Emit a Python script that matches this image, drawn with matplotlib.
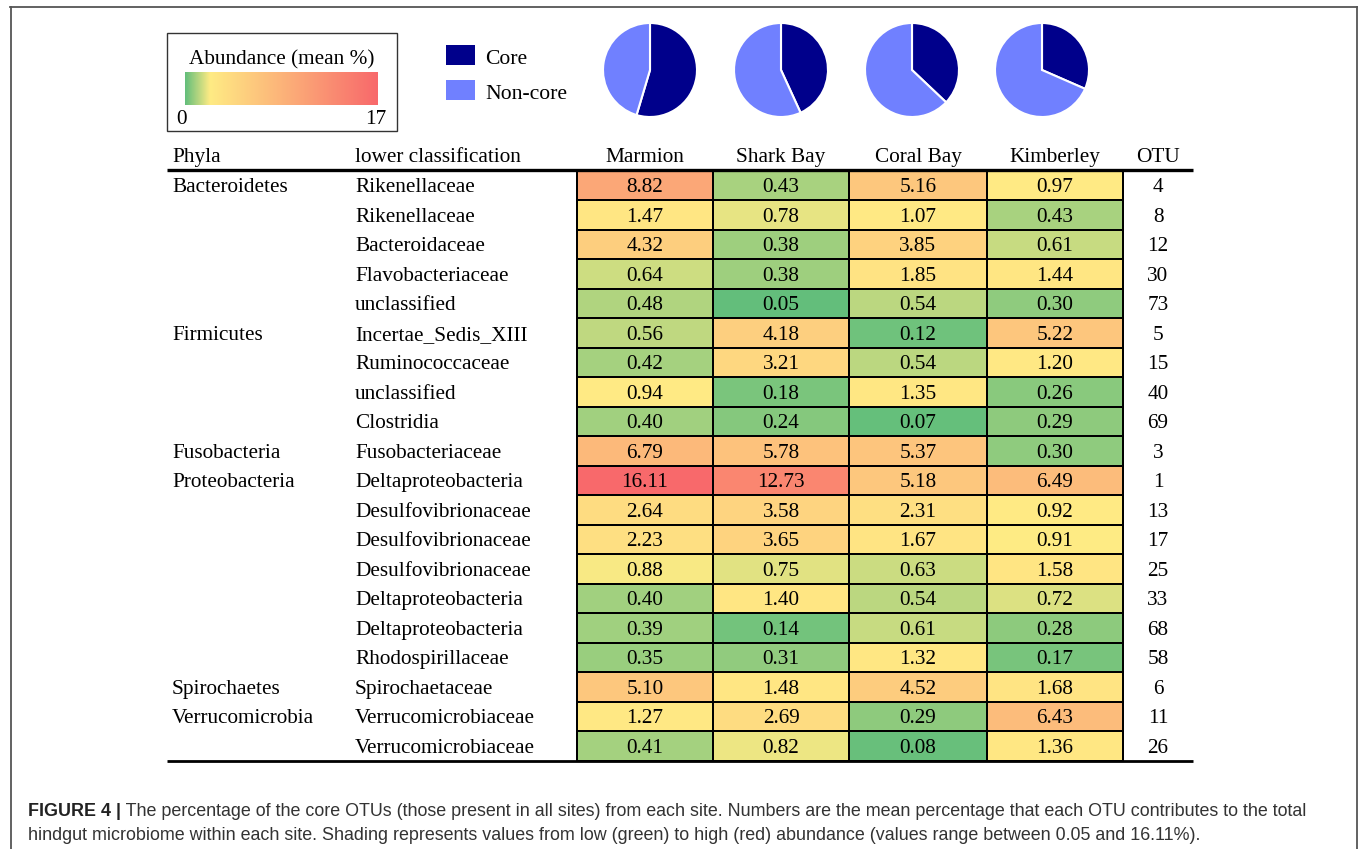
import numpy as np
import matplotlib
matplotlib.use("Agg")
import matplotlib.pyplot as plt
from matplotlib.colors import LinearSegmentedColormap, TwoSlopeNorm
from matplotlib.patches import Rectangle

# ---------------- data ----------------
sites = ["Marmion", "Shark Bay", "Coral Bay", "Kimberley"]
phyla = ["Bacteroidetes", "", "", "", "", "Firmicutes", "", "", "", "Fusobacteria",
         "Proteobacteria", "", "", "", "", "", "", "Spirochaetes", "Verrucomicrobia", ""]
lower = ["Rikenellaceae", "Rikenellaceae", "Bacteroidaceae", "Flavobacteriaceae", "unclassified",
         "Incertae_Sedis_XIII", "Ruminococcaceae", "unclassified", "Clostridia",
         "Fusobacteriaceae", "Deltaproteobacteria", "Desulfovibrionaceae", "Desulfovibrionaceae",
         "Desulfovibrionaceae", "Deltaproteobacteria", "Deltaproteobacteria", "Rhodospirillaceae",
         "Spirochaetaceae", "Verrucomicrobiaceae", "Verrucomicrobiaceae"]
otu = [4, 8, 12, 30, 73, 5, 15, 40, 69, 3, 1, 13, 17, 25, 33, 68, 58, 6, 11, 26]
marmion = [8.82, 1.47, 4.32, 0.64, 0.48, 0.56, 0.42, 0.94, 0.40, 6.79, 16.11, 2.64, 2.23,
           0.88, 0.40, 0.39, 0.35, 5.10, 1.27, 0.41]
shark_bay = [0.43, 0.78, 0.38, 0.38, 0.05, 4.18, 3.21, 0.18, 0.24, 5.78, 12.73, 3.58, 3.65,
             0.75, 1.40, 0.14, 0.31, 1.48, 2.69, 0.82]
coral_bay = [5.16, 1.07, 3.85, 1.85, 0.54, 0.12, 0.54, 1.35, 0.07, 5.37, 5.18, 2.31, 1.67,
             0.63, 0.54, 0.61, 1.32, 4.52, 0.29, 0.08]
kimberley = [0.97, 0.43, 0.61, 1.44, 0.30, 5.22, 1.20, 0.26, 0.29, 0.30, 6.49, 0.92, 0.91,
             1.58, 0.72, 0.28, 0.17, 1.68, 6.43, 1.36]
core_pct = [54.62, 43.16, 37.07, 31.56]
legend_min, legend_max = 0, 17

caption_bold = "FIGURE 4 |"
caption_1 = (" The percentage of the core OTUs (those present in all sites) from each site. "
             "Numbers are the mean percentage that each OTU contributes to the total")
caption_2 = ("hindgut microbiome within each site. Shading represents values from low (green) to "
             "high (red) abundance (values range between 0.05 and 16.11%).")

# ---------------- figure ----------------
W, H = 1359, 849
fig = plt.figure(figsize=(W / 100, H / 100), dpi=100)
ax = fig.add_axes([0, 0, 1, 1])
ax.set_xlim(0, W)
ax.set_ylim(H, 0)
ax.axis("off")


def px_axes(x0, y0, x1, y1):
    return fig.add_axes([x0 / W, 1 - y1 / H, (x1 - x0) / W, (y1 - y0) / H])


SERIF = ["Liberation Serif", "DejaVu Serif"]
SANS = ["Liberation Sans", "DejaVu Sans"]
FS = 15.3

GREEN, YELLOW, RED = "#63BE7B", "#FFEB84", "#F8696B"
cmap = LinearSegmentedColormap.from_list("gyr", [GREEN, YELLOW, RED])
vals = np.array([marmion, shark_bay, coral_bay, kimberley]).T
norm = TwoSlopeNorm(vmin=vals.min(), vcenter=np.median(vals), vmax=vals.max())

# outer frame
frame_kw = dict(color="#555555", lw=1.3)
ax.plot([10, 1357], [6.5, 6.5], **frame_kw)
ax.plot([10.5, 10.5], [6.5, H], **frame_kw)
ax.plot([1357, 1357], [6.5, H], **frame_kw)

# table
col_edges = np.array([577, 713, 849, 987, 1123])
row_top, row_h = 170.5, 29.5
y_edges = row_top + np.arange(len(otu) + 1) * row_h
ax.pcolormesh(col_edges, y_edges, vals, cmap=cmap, norm=norm,
              edgecolors="black", linewidth=1.3)
col_c = (col_edges[:-1] + col_edges[1:]) / 2
row_c = (y_edges[:-1] + y_edges[1:]) / 2
dy = 2.5
for i in range(len(otu)):
    for j in range(len(sites)):
        ax.text(col_c[j], row_c[i] + dy, f"{vals[i, j]:.2f}", ha="center", va="center",
                fontsize=FS, family=SERIF)
    ax.text(172, row_c[i] + dy, phyla[i], ha="left", va="center", fontsize=FS, family=SERIF)
    ax.text(355, row_c[i] + dy, lower[i], ha="left", va="center", fontsize=FS, family=SERIF)
    ax.text(1158, row_c[i] + dy, str(otu[i]), ha="center", va="center", fontsize=FS, family=SERIF)

# header
hy = 157.5
ax.text(172, hy, "Phyla", ha="left", va="center", fontsize=FS, family=SERIF)
ax.text(355, hy, "lower classification", ha="left", va="center", fontsize=FS, family=SERIF)
for j, s in enumerate(sites):
    ax.text(col_c[j], hy, s, ha="center", va="center", fontsize=FS, family=SERIF)
ax.text(1158, hy, "OTU", ha="center", va="center", fontsize=FS, family=SERIF)
ax.plot([167, 1193], [170, 170], color="black", lw=2.4, solid_capstyle="butt")
ax.plot([167, 1193], [761, 761], color="black", lw=2.0, solid_capstyle="butt")

# colour legend box
ax.add_patch(Rectangle((167, 33), 230, 98, fill=False, edgecolor="#333333", lw=1.0))
ax.text(282, 59.5, "Abundance (mean %)", ha="center", va="center", fontsize=FS, family=SERIF)
cax = px_axes(185, 72, 378, 105)
grad = np.linspace(legend_min, legend_max, 400)[None, :]
lnorm = TwoSlopeNorm(vmin=legend_min, vcenter=2.2, vmax=legend_max)
cax.imshow(grad, aspect="auto", cmap=cmap, norm=lnorm)
cax.axis("off")
ax.text(176, 119.5, str(legend_min), ha="left", va="center", fontsize=FS, family=SERIF)
ax.text(386, 119.5, str(legend_max), ha="right", va="center", fontsize=FS, family=SERIF)

# core legend
CORE, NONCORE = "#00008B", "#7080FF"
ax.add_patch(Rectangle((446, 45), 29, 20, color=CORE, lw=0))
ax.add_patch(Rectangle((446, 80), 29, 20, color=NONCORE, lw=0))
ax.text(485, 59, "Core", ha="left", va="center", fontsize=FS + 0.3, family=SERIF)
ax.text(485, 94, "Non-core", ha="left", va="center", fontsize=FS + 0.3, family=SERIF)

# pies
pie_cx = [650, 781, 912, 1042]
r = 47
for cx, p in zip(pie_cx, core_pct):
    pax = px_axes(cx - r, 70 - r, cx + r, 70 + r)
    pax.pie([p, 100 - p], colors=[CORE, NONCORE], startangle=90, counterclock=False,
            wedgeprops=dict(edgecolor="white", linewidth=1.5))
    pax.set_xlim(-1.0, 1.0)
    pax.set_ylim(-1.0, 1.0)
    pax.set_aspect("equal")
    pax.axis("off")

# caption
cfs = 12.9
t0 = ax.text(28, 811, caption_bold, ha="left", va="center", fontsize=cfs, family=SANS,
             fontweight="bold", color="#222222")
ax.annotate(caption_1, xy=(1, 0.5), xycoords=t0, ha="left", va="center", fontsize=cfs,
            family=SANS, color="#333333")
ax.text(28, 836, caption_2, ha="left", va="center", fontsize=cfs, family=SANS, color="#333333")

fig.savefig("out.png", dpi=100)
